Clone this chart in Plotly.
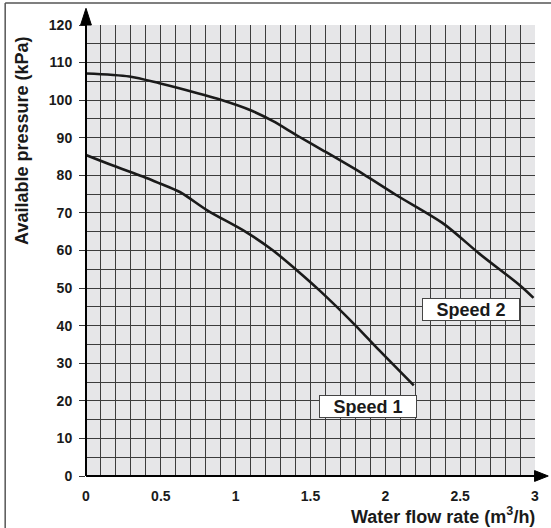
import plotly.graph_objects as go

# Data
speed1_x = [0.0, 0.18, 0.38, 0.49, 0.63, 0.81, 1.07, 1.25, 1.41, 1.56, 1.79, 1.96, 2.19]
speed1_y = [85.4, 82.6, 79.7, 77.9, 75.5, 70.7, 64.9, 60.0, 54.7, 49.4, 40.5, 33.4, 24.1]
speed2_x = [0.0, 0.29, 0.49, 0.61, 0.9, 1.1, 1.25, 1.41, 1.585, 1.85, 2.075, 2.39, 2.63, 2.9, 2.99]
speed2_y = [107.1, 106.3, 104.5, 103.3, 100.1, 97.3, 94.4, 90.6, 86.6, 80.4, 74.7, 67.1, 59.1, 50.7, 47.4]
x_ticks = [0, 0.5, 1, 1.5, 2, 2.5, 3]
x_tick_labels = ["0", "0.5", "1", "1.5", "2", "2.5", "3"]
y_ticks = [0, 10, 20, 30, 40, 50, 60, 70, 80, 90, 100, 110, 120]
labels = ["Speed 1", "Speed 2"]
label_x = [1.884, 2.574]
label_y = [18.6, 44.3]

FONT = "Liberation Sans, Arial, sans-serif"
GRID = "#3c3c3c"
INK = "#1a1a1a"

fig = go.Figure()
fig.add_trace(go.Scatter(x=speed1_x, y=speed1_y, mode="lines",
                         line=dict(color=INK, width=2.6, shape="spline", smoothing=0.8), name=labels[0]))
fig.add_trace(go.Scatter(x=speed2_x, y=speed2_y, mode="lines",
                         line=dict(color=INK, width=2.6, shape="spline", smoothing=0.8), name=labels[1]))

for t, lx, ly in zip(labels, label_x, label_y):
    fig.add_annotation(x=lx, y=ly, xref="x", yref="y", text="<b>" + t + "</b>", showarrow=False,
                       font=dict(family=FONT, size=18, color=INK), bgcolor="white",
                       bordercolor="#444444", borderwidth=1, borderpad=1, width=94, height=19)

# axis titles
fig.add_annotation(x=-0.1425, y=0.743, xref="paper", yref="paper", xanchor="center", yanchor="middle",
                   text="<b>Available pressure (kPa)</b>",
                   textangle=-90, showarrow=False, font=dict(family=FONT, size=18, color=INK))
fig.add_annotation(x=1.005, y=-0.087, xref="paper", yref="paper", xanchor="right", yanchor="middle",
                   text="<b>Water flow rate (m<sup>3</sup>/h)</b>", showarrow=False,
                   font=dict(family=FONT, size=18, color=INK))

# axis lines with arrows
fig.add_shape(type="line", xref="paper", yref="paper", x0=0, x1=1.02, y0=0, y1=0, line=dict(color="black", width=2))
fig.add_shape(type="path", xref="paper", yref="paper", path="M 0.999 0.012 L 0.999 -0.012 L 1.0295 0 Z",
              fillcolor="black", line=dict(color="black", width=1))
fig.add_shape(type="line", xref="paper", yref="paper", x0=0, x1=0, y0=0, y1=1.02, line=dict(color="black", width=2))
fig.add_shape(type="path", xref="paper", yref="paper", path="M -0.012 1.0 L 0.012 1.0 L 0 1.037 Z",
              fillcolor="black", line=dict(color="black", width=1))

# outer frame (top and left)
fig.add_shape(type="line", xref="paper", yref="paper", x0=-0.180, x1=1.04, y0=1.049, y1=1.049,
              line=dict(color="#555555", width=1.5))
fig.add_shape(type="line", xref="paper", yref="paper", x0=-0.180, x1=-0.180, y0=1.049, y1=-0.12,
              line=dict(color="#555555", width=1.5))

fig.update_layout(
    width=551, height=528,
    margin=dict(l=86, r=16, t=25, b=52),
    paper_bgcolor="white", plot_bgcolor="#e6e6e8",
    showlegend=False,
    font=dict(family=FONT, color=INK),
)
fig.update_xaxes(range=[0, 3], tickvals=x_ticks, ticktext=["<b>%s</b>" % s for s in x_tick_labels],
                 tickfont=dict(size=14, family=FONT, color=INK), showgrid=True, gridcolor=GRID, gridwidth=1,
                 minor=dict(dtick=0.1, showgrid=True, gridcolor=GRID, gridwidth=1),
                 zeroline=False, showline=False, ticks="", ticklabelstandoff=10)
fig.update_yaxes(range=[0, 120], tickvals=y_ticks, ticktext=["<b>%d</b>" % v for v in y_ticks],
                 tickfont=dict(size=14, family=FONT, color=INK), showgrid=True, gridcolor=GRID, gridwidth=1,
                 minor=dict(dtick=5, showgrid=True, gridcolor=GRID, gridwidth=1),
                 zeroline=False, showline=False, ticks="outside", ticklen=6, tickcolor="#333333",
                 ticklabelstandoff=4)

fig.write_html("out.html", config={"displayModeBar": False},
               post_script="document.body.style.margin='0';")
